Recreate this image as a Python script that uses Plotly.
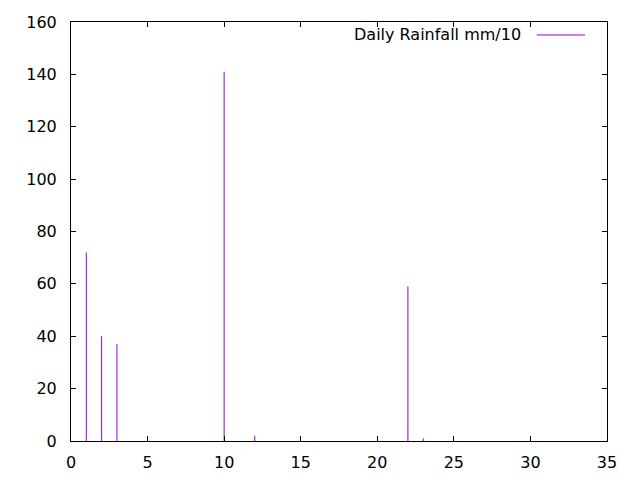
import plotly.graph_objects as go

days = [1, 2, 3, 10, 12, 22, 23]
rainfall = [72, 40, 37, 141, 2, 59, 1]
series_name = "Daily Rainfall mm/10"
x_ticks = [0, 5, 10, 15, 20, 25, 30, 35]
y_ticks = [0, 20, 40, 60, 80, 100, 120, 140, 160]

xs, ys = [], []
for d, v in zip(days, rainfall):
    xs += [d, d, None]
    ys += [0, v, None]

color = "#9400D3"
font_family = "DejaVu Sans"
font_size = 16

fig = go.Figure()
fig.add_trace(go.Scatter(x=xs, y=ys, mode="lines", line=dict(color=color, width=1),
                         name=series_name, showlegend=False, hoverinfo="skip"))

axis_common = dict(showline=True, linecolor="black", linewidth=1, mirror="allticks",
                   ticks="inside", ticklen=5, tickcolor="black", showgrid=False,
                   zeroline=False, automargin=False,
                   tickfont=dict(family=font_family, size=font_size, color="black"))
fig.update_xaxes(range=[0, 35], tickvals=x_ticks, ticklabelstandoff=7, **axis_common)
fig.update_yaxes(range=[0, 160], tickvals=y_ticks, ticklabelstandoff=10, **axis_common)

fig.add_annotation(xref="paper", yref="paper", x=0.843, y=0.969, text=series_name,
                   showarrow=False, xanchor="right", yanchor="middle",
                   font=dict(family=font_family, size=font_size, color="black"))
fig.add_shape(type="line", xref="paper", yref="paper", x0=0.869, x1=0.959, y0=0.969, y1=0.969,
              line=dict(color=color, width=1))

fig.update_layout(width=640, height=480, margin=dict(l=63, r=41, t=14, b=47),
                  plot_bgcolor="white", paper_bgcolor="white",
                  font=dict(family=font_family, size=font_size, color="black"))
fig.write_html("out.html")
